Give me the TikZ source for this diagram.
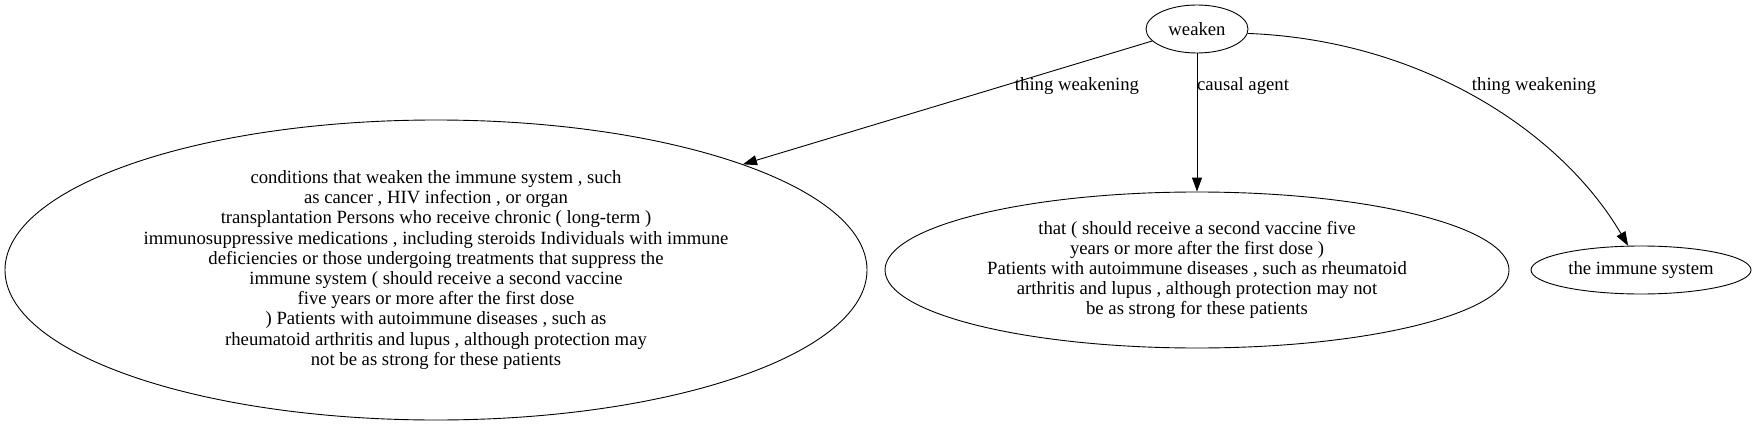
\documentclass[tikz,border=0pt]{standalone}
\usepackage{fontspec}
\setmainfont{Liberation Serif}
\usetikzlibrary{shapes.geometric,arrows.meta}
\tikzset{
  x=1pt,y=-1pt,
  every node/.style={font=\fontsize{18.7}{20.2}\selectfont},
  oval/.style={draw,ellipse,inner sep=0pt,align=center,line width=0.9pt},
  lbl/.style={inner sep=0pt},
  edge/.style={draw,line width=0.9pt,-{Triangle[length=14pt,width=10pt]}}
}
\begin{document}
\begin{tikzpicture}
\useasboundingbox (0,0) rectangle (1755,425);
\node[oval,minimum width=102pt,minimum height=48pt] (weaken) at (1197,29) {weaken};
\node[oval,minimum width=862pt,minimum height=300pt] (big) at (436,270)
 {conditions that weaken the immune system , such\\
  as cancer , HIV infection , or organ\\
  transplantation Persons who receive chronic ( long-term )\\
  immunosuppressive medications , including steroids Individuals with immune\\
  deficiencies or those undergoing treatments that suppress the\\
  immune system ( should receive a second vaccine\\
  five years or more after the first dose\\
  ) Patients with autoimmune diseases , such as\\
  rheumatoid arthritis and lupus , although protection may\\
  not be as strong for these patients};
\node[oval,minimum width=624pt,minimum height=156pt] (mid) at (1197,270)
 {that ( should receive a second vaccine five\\
  years or more after the first dose )\\
  Patients with autoimmune diseases , such as rheumatoid\\
  arthritis and lupus , although protection may not\\
  be as strong for these patients};
\node[oval,minimum width=220pt,minimum height=48pt] (imm) at (1641,270) {the immune system};
\draw[edge] (weaken.195.5) -- (big.19.2);
\draw[edge] (weaken.south) -- (mid.north);
\draw[edge] (weaken.355.5) .. controls (1420,40) and (1560,130) .. (imm.118);
\node[lbl] (l1) at (1077,86) {thing weakening};
\node[lbl] (l2) at (1243,86) {causal agent};
\node[lbl] (l3) at (1534,86) {thing weakening};
\end{tikzpicture}
\end{document}
